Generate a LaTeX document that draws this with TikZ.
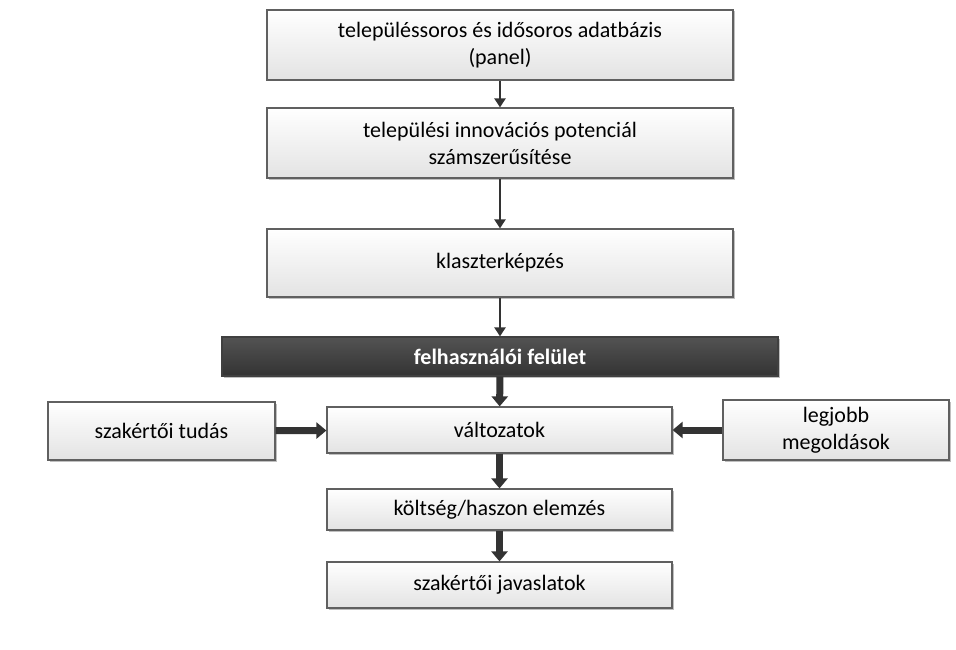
\documentclass[tikz,border=0pt]{standalone}
\usepackage{fontspec}
\setmainfont{Carlito}
\usetikzlibrary{arrows.meta,shadows}
\begin{document}
\begin{tikzpicture}[x=1pt,y=-1pt,
  box/.style={draw=gray!75!black,line width=1.2pt,top color=white,bottom color=gray!22,
    drop shadow={shadow xshift=1.5pt,shadow yshift=-1.5pt,opacity=.5},
    align=center,font=\fontsize{22}{27}\selectfont,inner sep=0pt},
  dark/.style={draw=gray!50!black,line width=1.2pt,top color=gray!65!black,bottom color=gray!40!black,
    drop shadow={shadow xshift=1.5pt,shadow yshift=-1.5pt,opacity=.5},
    text=white,font=\fontsize{22}{27}\selectfont\bfseries,inner sep=0pt},
  thin/.style={draw=gray!40!black,line width=2.5pt,-{Triangle[length=9pt,width=11pt]}},
  thick/.style={draw=gray!40!black,line width=7pt,-{Triangle[length=10pt,width=16pt]}}]
\useasboundingbox (0,0) rectangle (956,650);
\node[box,minimum width=466,minimum height=70] (b1) at (500,45) {településsoros és idősoros adatbázis\\(panel)};
\node[box,minimum width=466,minimum height=70] (b2) at (500,143) {települési innovációs potenciál\\számszerűsítése};
\node[box,minimum width=466,minimum height=68] (b3) at (500,263) {klaszterképzés};
\node[dark,minimum width=556,minimum height=39] (d) at (500,356.5) {felhasználói felület};
\node[box,minimum width=227,minimum height=58] (sz) at (161.5,431) {szakértői tudás};
\node[box,minimum width=345,minimum height=46] (v) at (499.5,430) {változatok};
\node[box,minimum width=226,minimum height=60] (lm) at (836,430) {legjobb\\megoldások};
\node[box,minimum width=345,minimum height=41] (k) at (499.5,509.5) {költség/haszon elemzés};
\node[box,minimum width=345,minimum height=46] (j) at (499.5,585) {szakértői javaslatok};
\draw[thin] (b1) -- (b2);
\draw[thin] (b2) -- (b3);
\draw[thin] (b3) -- (d);
\draw[thick] (d) -- (v);
\draw[thick] (sz) -- (v);
\draw[thick] (lm) -- (v);
\draw[thick] (v) -- (k);
\draw[thick] (k) -- (j);
\end{tikzpicture}
\end{document}
